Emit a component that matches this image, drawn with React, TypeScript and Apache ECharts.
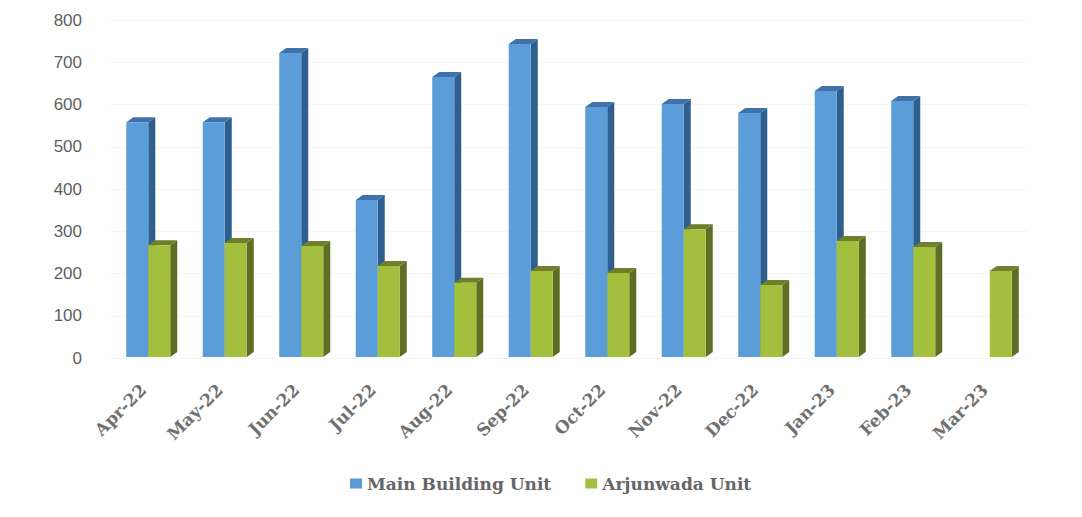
import React, { useEffect, useRef } from "react";
import * as echarts from "echarts";

const categories = ["Apr-22","May-22","Jun-22","Jul-22","Aug-22","Sep-22","Oct-22","Nov-22","Dec-22","Jan-23","Feb-23","Mar-23"];
const mainBuilding: (number | null)[] = [558,558,722,374,665,743,594,601,580,632,608,null];
const arjunwada = [267,272,265,218,178,206,201,305,173,277,263,206];
const yTicks = [0,100,200,300,400,500,600,700,800];

const BAR_RATIO = 22 / 76.5;
const DX = 7;
const DY = 5;

function bar3d(offsetSign: number, front: string, side: string, topc: string) {
  return (params: any, api: any) => {
    const v = api.value(1);
    if (v == null || isNaN(v)) return { type: "group", children: [] };
    const p = api.coord([api.value(0), v]);
    const b = api.coord([api.value(0), 0]);
    const w = api.size([1, 0])[0] * BAR_RATIO;
    const x0 = offsetSign < 0 ? p[0] - w : p[0];
    const x1 = x0 + w;
    const t = p[1];
    const y = b[1] - 1;
    return {
      type: "group",
      children: [
        { type: "polygon", shape: { points: [[x1, y], [x1 + DX, y - DY], [x1 + DX, t - DY], [x1, t]] }, style: { fill: side } },
        { type: "polygon", shape: { points: [[x0, t], [x0 + DX, t - DY], [x1 + DX, t - DY], [x1, t]] }, style: { fill: topc } },
        { type: "rect", shape: { x: x0, y: t, width: w, height: y - t }, style: { fill: front } },
      ],
    };
  };
}

export default function App() {
  const ref = useRef<HTMLDivElement>(null);
  useEffect(() => {
    document.body.style.margin = "0";
    const chart = echarts.init(ref.current!, null, { renderer: "svg" });
    chart.setOption({
      animation: false,
      backgroundColor: "#fefefe",
      grid: { left: 110, right: 54, top: 20, bottom: 159 },
      legend: {
        left: 345,
        top: 470,
        itemWidth: 12,
        itemHeight: 10,
        itemGap: 34,
        icon: "rect",
        textStyle: { fontFamily: "DejaVu Serif", fontWeight: "bold", fontSize: 17, color: "#666" },
        data: ["Main Building Unit", "Arjunwada Unit"],
      },
      xAxis: {
        type: "category",
        data: categories,
        axisTick: { show: false },
        axisLine: { show: false },
        axisLabel: { rotate: 45, margin: 24, interval: 0, padding: [0, 7, 0, 0], fontFamily: "DejaVu Serif", fontWeight: "bold", fontSize: 17, color: "#707070" },
      },
      yAxis: {
        type: "value",
        min: yTicks[0],
        max: yTicks[yTicks.length - 1],
        interval: 100,
        axisLine: { show: false },
        axisTick: { show: false },
        axisLabel: { margin: 28, fontFamily: "Liberation Sans", fontSize: 17, color: "#5f5f5f" },
        splitLine: { lineStyle: { color: "#f6f6f6" } },
      },
      series: [
        {
          name: "Main Building Unit",
          type: "custom",
          itemStyle: { color: "#5b9bd5" },
          renderItem: bar3d(-1, "#5b9dd9", "#2f5f8f", "#3f72a8"),
          encode: { x: 0, y: 1 },
          data: mainBuilding.map((v, i) => [i, v]),
          z: 2,
        },
        {
          name: "Arjunwada Unit",
          type: "custom",
          itemStyle: { color: "#a4c043" },
          renderItem: bar3d(1, "#a2bf3e", "#5f6e25", "#6f7f2c"),
          encode: { x: 0, y: 1 },
          data: arjunwada.map((v, i) => [i, v]),
          z: 3,
        },
      ],
    });
    return () => chart.dispose();
  }, []);
  return <div ref={ref} style={{ width: 1082, height: 517 }} />;
}
